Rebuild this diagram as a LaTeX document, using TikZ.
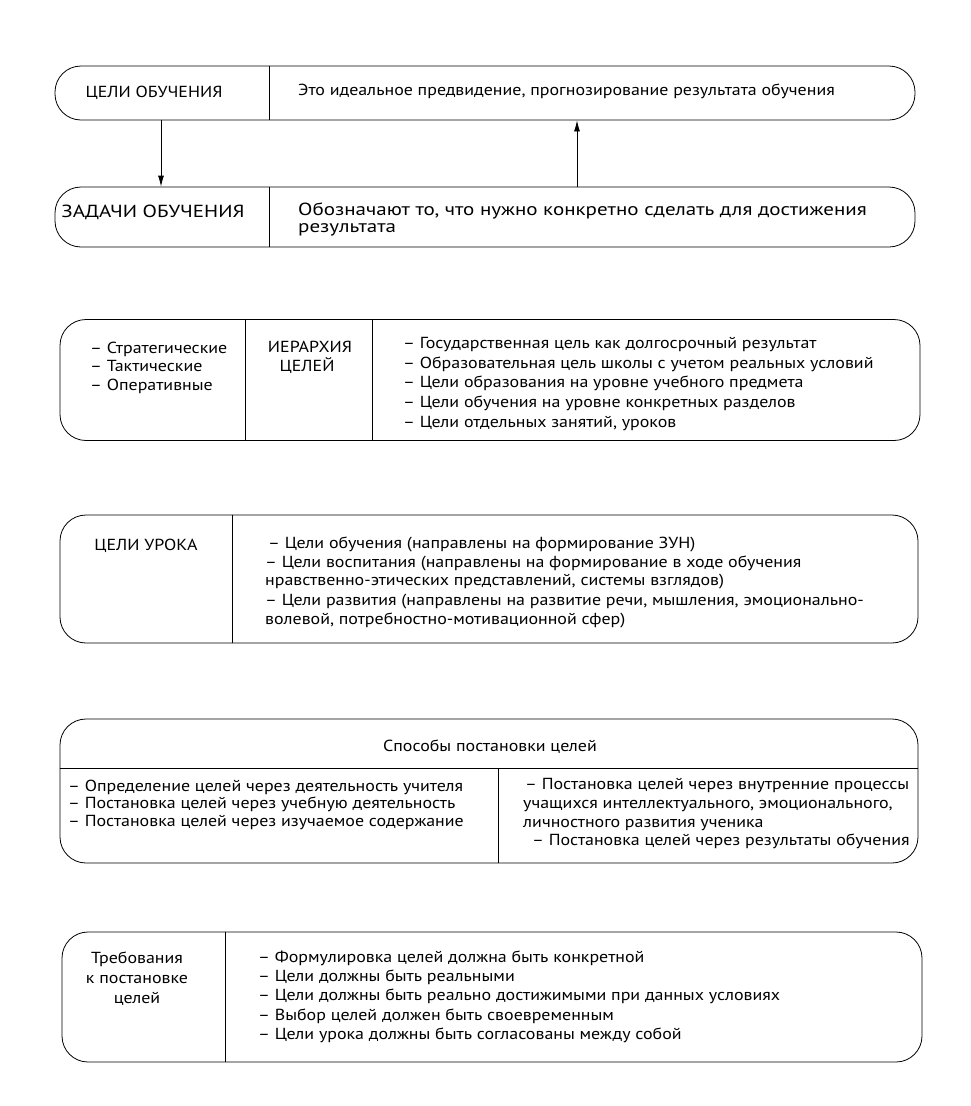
\documentclass[tikz,border=0pt]{standalone}
\usepackage{fontspec}
\setmainfont[FakeStretch=1.12]{PT Sans}
\newfontfamily\widefont[FakeStretch=1.2]{PT Sans}
\usetikzlibrary{arrows.meta}
\tikzset{
  box/.style={draw, line width=0.8pt, rounded corners=26pt, inner sep=0pt},
  sep/.style={line width=0.7pt},
  txt/.style={anchor=base west, inner sep=0pt, font=\fontsize{16}{19}\selectfont},
  ctxt/.style={anchor=base, inner sep=0pt, font=\fontsize{16}{19}\selectfont},
  big/.style={font=\widefont\fontsize{17.5}{20}\selectfont},
  arr/.style={line width=0.8pt, -{Latex[length=11pt,width=6pt]}}
}
\begin{document}
\begin{tikzpicture}[x=1pt,y=-1pt]
\useasboundingbox (0,0) rectangle (970,1106);
% ---------- box 1 and 2
\node[box, minimum width=860pt, minimum height=54pt] (b1) at (485,93) {};
\node[box, minimum width=860pt, minimum height=60pt] (b2) at (485,217) {};
\coordinate (d1) at (269,0);
\draw[sep] (d1 |- b1.north) -- (d1 |- b1.south);
\draw[sep] (d1 |- b2.north) -- (d1 |- b2.south);
\node[ctxt] (t1) at (154,97) {ЦЕЛИ ОБУЧЕНИЯ};
\node[txt] (t1r) at (298,95) {Это идеальное предвидение, прогнозирование результата обучения};
\node[ctxt, big] (t2) at (153,217) {ЗАДАЧИ ОБУЧЕНИЯ};
\node[txt, big] (t2a) at (298,215) {Обозначают то, что нужно конкретно сделать для достижения};
\node[txt, big] (t2b) at (298,232) {результата};
\coordinate (a1) at (161,0);
\coordinate (a2) at (577,0);
\draw[arr] (a1 |- b1.south) -- (a1 |- b2.north);
\draw[arr] (a2 |- b2.north) -- (a2 |- b1.south);
% ---------- box 3
\node[box, minimum width=860pt, minimum height=121pt] (b3) at (490,380) {};
\coordinate (d2) at (245,0);
\coordinate (d3) at (372,0);
\draw[sep] (d2 |- b3.north) -- (d2 |- b3.south);
\draw[sep] (d3 |- b3.north) -- (d3 |- b3.south);
\foreach \t/\y [count=\i] in {– Стратегические/353, – Тактические/371, – Оперативные/390}
  \node[txt] (b3l\i) at (90,\y) {\t};
\node[ctxt] (b3m1) at (310,352) {ИЕРАРХИЯ};
\node[ctxt] (b3m2) at (307,371) {ЦЕЛЕЙ};
\foreach \t/\y [count=\i] in {
  {– Государственная цель как долгосрочный результат}/348,
  {– Образовательная цель школы с учетом реальных условий}/368,
  {– Цели образования на уровне учебного предмета}/387,
  {– Цели обучения на уровне конкретных разделов}/407,
  {– Цели отдельных занятий, уроков}/427}
  \node[txt] (b3r\i) at (403,\y) {\t};
% ---------- box 4
\node[box, minimum width=858pt, minimum height=128pt] (b4) at (489,579) {};
\coordinate (d4) at (232,0);
\draw[sep] (d4 |- b4.north) -- (d4 |- b4.south);
\node[ctxt] (b4l) at (146,550) {ЦЕЛИ УРОКА};
\foreach \t/\x/\y [count=\i] in {
  {– Цели обучения (направлены на формирование ЗУН)}/268/548,
  {– Цели воспитания (направлены на формирование в ходе обучения}/265/567,
  {нравственно-этических представлений, системы взглядов)}/265/585,
  {– Цели развития (направлены на развитие речи, мышления, эмоционально-}/265/605,
  {волевой, потребностно-мотивационной сфер)}/265/624}
  \node[txt] (b4r\i) at (\x,\y) {\t};
% ---------- box 5
\node[box, minimum width=858pt, minimum height=144pt] (b5) at (489,791) {};
\coordinate (h5) at (0,768);
\coordinate (d5) at (498,0);
\draw[sep] (h5 -| b5.west) -- (h5 -| b5.east);
\draw[sep] (d5 |- h5) -- (d5 |- b5.south);
\node[ctxt] (b5t) at (490,751) {Способы постановки целей};
\foreach \t/\y [count=\i] in {
  {– Определение целей через деятельность учителя}/791,
  {– Постановка целей через учебную деятельность}/808,
  {– Постановка целей через изучаемое содержание}/826}
  \node[txt] (b5l\i) at (68,\y) {\t};
\foreach \t/\x/\y [count=\i] in {
  {– Постановка целей через внутренние процессы}/525/789,
  {учащихся интеллектуального, эмоционального,}/523/808,
  {личностного развития ученика}/523/827,
  {– Постановка целей через результаты обучения}/532/845}
  \node[txt] (b5r\i) at (\x,\y) {\t};
% ---------- box 6
\node[box, minimum width=860pt, minimum height=130pt] (b6) at (492,997) {};
\coordinate (d6) at (225,0);
\draw[sep] (d6 |- b6.north) -- (d6 |- b6.south);
\foreach \t/\y [count=\i] in {Требования/963, к постановке/983, целей/1003}
  \node[ctxt] (b6l\i) at (137,\y) {\t};
\foreach \t/\y [count=\i] in {
  {– Формулировка целей должна быть конкретной}/962,
  {– Цели должны быть реальными}/981,
  {– Цели должны быть реально достижимыми при данных условиях}/1000,
  {– Выбор целей должен быть своевременным}/1020,
  {– Цели урока должны быть согласованы между собой}/1039}
  \node[txt] (b6r\i) at (258,\y) {\t};
\end{tikzpicture}
\end{document}
